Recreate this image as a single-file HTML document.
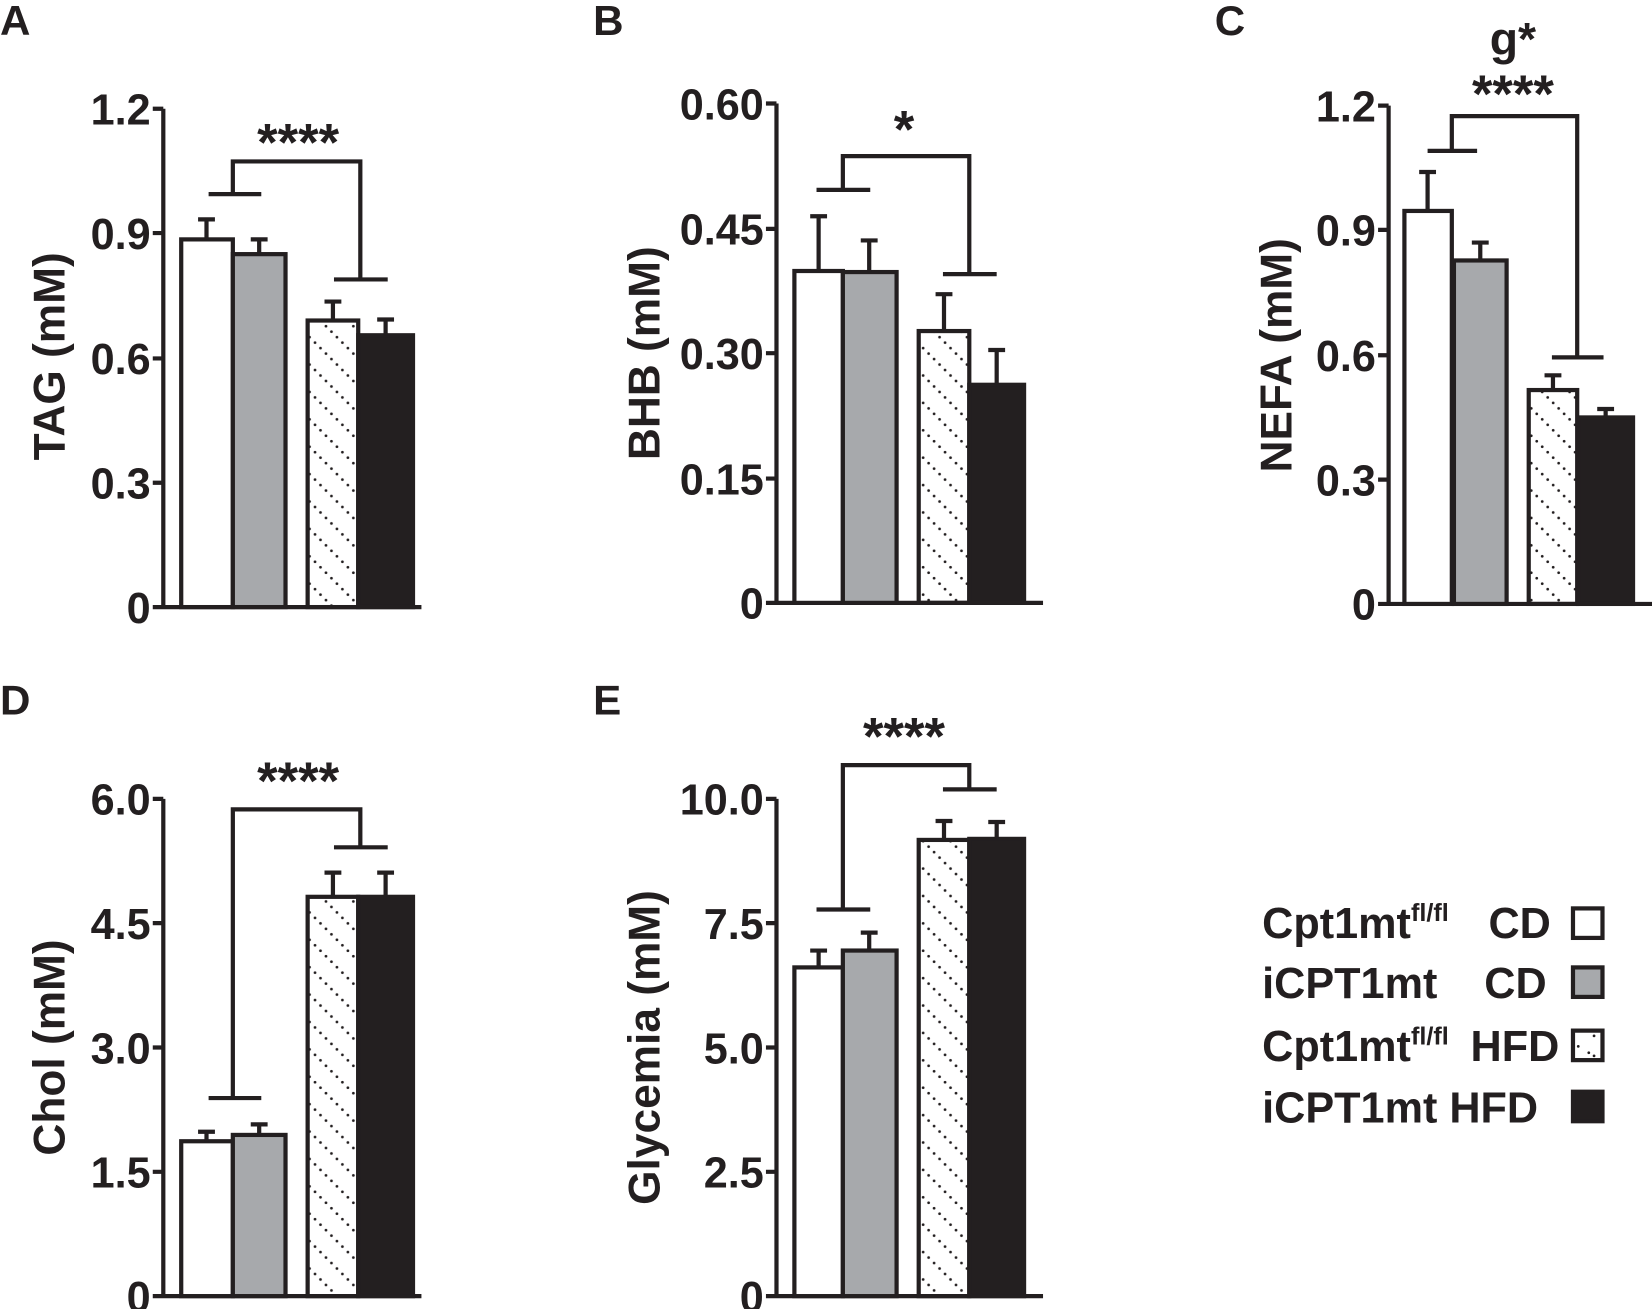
<!DOCTYPE html>
<html><head><meta charset="utf-8"><style>
html,body{margin:0;padding:0;background:#fff;}
svg{display:block;}
text{font-family:"Liberation Sans",Arial,sans-serif;font-weight:bold;fill:#231f20;}
</style></head><body>
<svg width="1652" height="1309" viewBox="0 0 1568 1242" xmlns="http://www.w3.org/2000/svg">
<defs>
<pattern id="h" width="26" height="26" patternUnits="userSpaceOnUse" x="0" y="0">
<g fill="#231f20">
<circle cx="2.6" cy="2.6" r="1.3"/><circle cx="7.8" cy="7.8" r="1.3"/><circle cx="13" cy="13" r="1.3"/><circle cx="18.2" cy="18.2" r="1.3"/><circle cx="23.4" cy="23.4" r="1.3"/>
</g>
</pattern>
</defs>
<g stroke="#231f20" stroke-width="4" fill="none">
<path d="M155 103V576 M150 576H400 M145 103H155 M145 221H155 M145 340H155 M145 458H155 M145 576H155"/>
<rect x="172" y="227" width="49" height="349" fill="#fff"/>
<rect x="221" y="241" width="50" height="335" fill="#a7a9ac"/>
<rect x="292" y="304" width="48" height="272" fill="url(#h)"/>
<rect x="340" y="318" width="52" height="258" fill="#231f20"/>
<path d="M196 227V208 M188 208H204 M246 241V227 M238 227H254 M316 304V286 M308 286H324 M366 318V303 M358 303H374"/>
<path d="M198 184H248 M221 184V153H342V265 M317 265H368"/>
<path d="M737 98V572 M732 572H990 M727 98H737 M727 217H737 M727 335H737 M727 454H737 M727 572H737"/>
<rect x="754" y="257" width="46" height="315" fill="#fff"/>
<rect x="800" y="258" width="51" height="314" fill="#a7a9ac"/>
<rect x="872" y="314" width="48" height="258" fill="url(#h)"/>
<rect x="920" y="365" width="52" height="207" fill="#231f20"/>
<path d="M777 257V205 M769 205H785 M825 258V228 M817 228H833 M896 314V279 M888 279H904 M946 365V332 M938 332H954"/>
<path d="M775 180H826 M800 180V148H920V260 M895 260H946"/>
<path d="M1318 100V573 M1313 573H1568 M1308 100H1318 M1308 218H1318 M1308 337H1318 M1308 455H1318 M1308 573H1318"/>
<rect x="1333" y="200" width="45" height="373" fill="#fff"/>
<rect x="1380" y="247" width="50" height="326" fill="#a7a9ac"/>
<rect x="1451" y="370" width="46" height="203" fill="url(#h)"/>
<rect x="1498" y="396" width="52" height="177" fill="#231f20"/>
<path d="M1355 200V163 M1347 163H1363 M1405 247V230 M1397 230H1413 M1474 370V356 M1466 356H1482 M1524 396V388 M1516 388H1532"/>
<path d="M1355 143H1402 M1378 143V110H1497V339 M1473 339H1522"/>
<path d="M155 758V1230 M150 1230H400 M145 758H155 M145 876H155 M145 994H155 M145 1112H155 M145 1230H155"/>
<rect x="172" y="1083" width="49" height="147" fill="#fff"/>
<rect x="221" y="1077" width="50" height="153" fill="#a7a9ac"/>
<rect x="292" y="851" width="48" height="379" fill="url(#h)"/>
<rect x="340" y="851" width="52" height="379" fill="#231f20"/>
<path d="M196 1083V1074 M188 1074H204 M246 1077V1067 M238 1067H254 M316 851V828 M308 828H324 M366 851V828 M358 828H374"/>
<path d="M198 1042H248 M221 1042V768H342V804 M317 804H368"/>
<path d="M737 758V1230 M732 1230H990 M727 758H737 M727 876H737 M727 994H737 M727 1112H737 M727 1230H737"/>
<rect x="754" y="918" width="46" height="312" fill="#fff"/>
<rect x="800" y="902" width="51" height="328" fill="#a7a9ac"/>
<rect x="872" y="797" width="48" height="433" fill="url(#h)"/>
<rect x="920" y="796" width="52" height="434" fill="#231f20"/>
<path d="M777 918V902 M769 902H785 M825 902V885 M817 885H833 M896 797V779 M888 779H904 M946 796V780 M938 780H954"/>
<path d="M775 863H826 M800 863V726H920V749 M895 749H946"/>
<rect x="1493" y="862" width="28" height="28" fill="#fff"/>
<rect x="1493" y="918" width="28" height="28" fill="#a7a9ac"/>
<rect x="1493" y="978" width="28" height="28" fill="#fff"/>
<rect x="1493" y="1036" width="28" height="28" fill="#231f20"/>
</g>
<g fill="#231f20"><circle cx="1513" cy="983" r="1.3"/><circle cx="1498" cy="993" r="1.3"/><circle cx="1508" cy="999" r="1.3"/><circle cx="1513" cy="1002" r="1.3"/></g>

<g font-size="41" text-anchor="end">
<text x="143" y="118">1.2</text><text x="143" y="236">0.9</text><text x="143" y="355">0.6</text><text x="143" y="473">0.3</text><text x="143" y="591">0</text>
<text x="725" y="113">0.60</text><text x="725" y="232">0.45</text><text x="725" y="350">0.30</text><text x="725" y="469">0.15</text><text x="725" y="587">0</text>
<text x="1306" y="115">1.2</text><text x="1306" y="233">0.9</text><text x="1306" y="352">0.6</text><text x="1306" y="470">0.3</text><text x="1306" y="588">0</text>
<text x="143" y="773">6.0</text><text x="143" y="891">4.5</text><text x="143" y="1009">3.0</text><text x="143" y="1127">1.5</text><text x="143" y="1245">0</text>
<text x="725" y="773">10.0</text><text x="725" y="891">7.5</text><text x="725" y="1009">5.0</text><text x="725" y="1127">2.5</text><text x="725" y="1245">0</text>
</g>
<g font-size="42" text-anchor="middle">
<text transform="translate(61,338) rotate(-90)">TAG (mM)</text>
<text transform="translate(626,335) rotate(-90)">BHB (mM)</text>
<text transform="translate(1226,337) rotate(-90)">NEFA (mM)</text>
<text transform="translate(61,994) rotate(-90)">Chol (mM)</text>
<text transform="translate(626,994) rotate(-90)">Glycemia (mM)</text>
<text x="283" y="152" font-size="50">****</text>
<text x="858" y="140" font-size="50">*</text>
<text x="1436" y="106" font-size="50">****</text>
<text x="1436" y="52" font-size="44">g*</text>
<text x="283" y="758" font-size="50">****</text>
<text x="858" y="716" font-size="50">****</text>
</g>
<g font-size="40">
<text x="0" y="33">A</text><text x="563" y="33">B</text><text x="1153" y="33">C</text>
<text x="0" y="678">D</text><text x="563" y="678">E</text>
</g>
<g font-size="41">
<text x="1198" y="890">Cpt1mt<tspan font-size="24" dy="-16">fl/fl</tspan></text>
<text x="1472" y="890" text-anchor="end">CD</text>
<text x="1198" y="947">iCPT1mt</text>
<text x="1468" y="947" text-anchor="end">CD</text>
<text x="1198" y="1007">Cpt1mt<tspan font-size="24" dy="-16">fl/fl</tspan></text>
<text x="1480" y="1007" text-anchor="end">HFD</text>
<text x="1198" y="1065">iCPT1mt HFD</text>
</g>
</svg>
</body></html>
